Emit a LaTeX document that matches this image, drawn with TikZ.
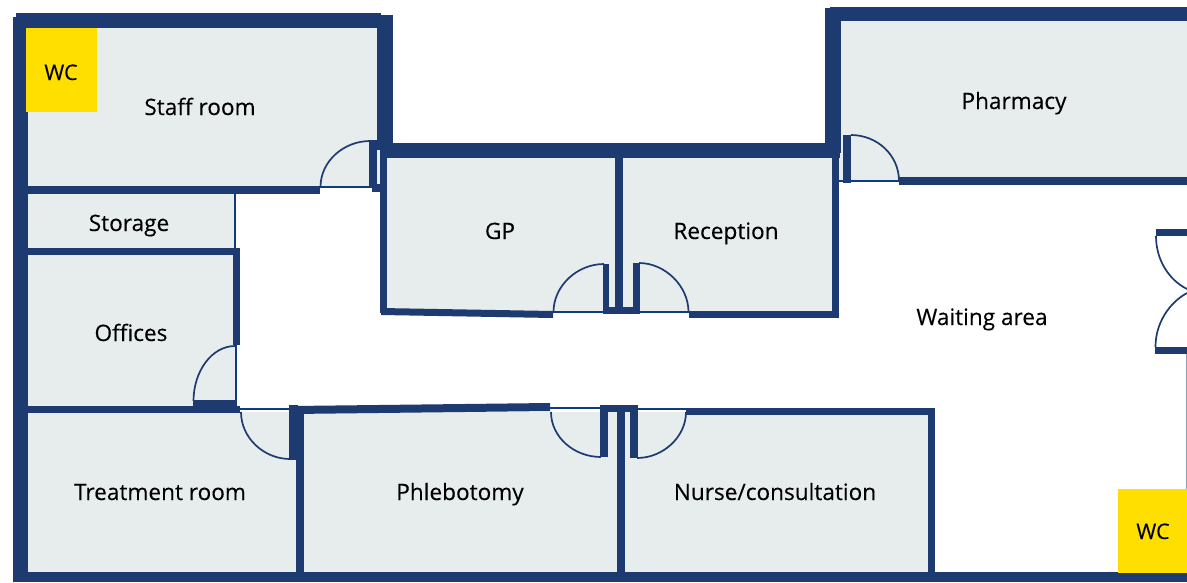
\documentclass[tikz,border=0pt]{standalone}
\usepackage{fontspec}
\setmainfont[FakeBold=0.25]{Open Sans}
\definecolor{wall}{HTML}{1D3B70}
\definecolor{roomfill}{HTML}{E7ECEC}
\definecolor{doorline}{HTML}{0F3A88}
\definecolor{wcyellow}{HTML}{FFDF00}
\definecolor{edgeline}{HTML}{8C9DBD}
\tikzset{
  room/.style={fill=roomfill,draw=none},
  wallpart/.style={fill=wall,draw=none},
  opening/.style={draw=doorline,line width=2pt},
  swing/.style={draw=wall,line width=1.7pt},
  wcbox/.style={fill=wcyellow,draw=none},
  label/.style={font=\fontsize{22.6}{26}\selectfont,text=black,inner sep=0pt,anchor=base},
  wclabel/.style={font=\fontsize{21.5}{24}\selectfont,text=black,inner sep=0pt,anchor=base}
}
\begin{document}
\begin{tikzpicture}[x=1pt,y=-1pt]
\useasboundingbox (0,0) rectangle (1187,582);
% room floors
\fill[room] (28,28) rectangle (380,188);
\fill[room] (28,194) rectangle (235,250);
\fill[room] (28,254) rectangle (235,406);
\fill[room] (28,412) rectangle (298,574);
\fill[room] (302,412) rectangle (620,574);
\fill[room] (622,412) rectangle (930,574);
\fill[room] (385,155) rectangle (616,313);
\fill[room] (622,155) rectangle (834,313);
\fill[room] (838,20) rectangle (1187,181);
% thin openings
\draw[opening] (320,187) -- (372,187);
\draw[opening] (553,312) -- (605,312);
\draw[opening] (638,312) -- (690,312);
\draw[opening] (839,181) -- (900,181);
\draw[opening] (235,194) -- (235,250);
\draw[opening] (236,345) -- (236,406);
\draw[opening] (240,409) -- (292,409);
\draw[opening] (550,408) -- (602,408);
\draw[opening] (636,409) -- (688,409);
\draw[edgeline,line width=1pt] (1186.5,354) -- (1186.5,490);
% door swings
\draw[swing] (320.5,187) .. controls (320.5,161) and (344,141) .. (370,141);
\draw[swing] (553.5,312) .. controls (553.5,286) and (577,264) .. (604,264);
\draw[swing] (688.5,312) .. controls (688.5,286) and (665,263) .. (639,263);
\draw[swing] (899,181) .. controls (899,155) and (877,135) .. (851,135);
\draw[swing] (193.5,401) .. controls (193.5,371) and (212,346) .. (235,346);
\draw[swing] (241,412) .. controls (241,438) and (264,459) .. (290,459);
\draw[swing] (551,412) .. controls (551,437) and (574,457) .. (601,457);
\draw[swing] (686,412) .. controls (686,437) and (663,458) .. (637,458);
\draw[swing] (1156,236) .. controls (1156,260) and (1169,280) .. (1187,289);
\draw[swing] (1155.5,347) .. controls (1155.5,323) and (1169,303) .. (1187,293);
% walls
\fill[wallpart] (13,17) rectangle (28,582);
\fill[wallpart] (16,13) rectangle (381,28);
\fill[wallpart] (377,15) rectangle (393,150);
\fill[wallpart] (28,186) rectangle (320,194);
\fill[wallpart] (369,140) rectangle (377,187);
\fill[wallpart] (372,184) rectangle (381,192);
\fill[wallpart] (381,143) rectangle (840,158);
\fill[wallpart] (380,150) rectangle (387,313);
\fill[wallpart] (381,308) -- (553,311) -- (553,318) -- (381,315) -- cycle;
\fill[wallpart] (603,264) rectangle (609,314);
\fill[wallpart] (603,307) rectangle (640,314);
\fill[wallpart] (615,155) rectangle (623,310);
\fill[wallpart] (633,263) rectangle (640,314);
\fill[wallpart] (689,311) rectangle (839,318);
\fill[wallpart] (832,150) rectangle (839,318);
\fill[wallpart] (825,8) rectangle (841,153);
\fill[wallpart] (830,7) rectangle (1187,21);
\fill[wallpart] (843,135) rectangle (851,183);
\fill[wallpart] (899,177) rectangle (1187,185);
\fill[wallpart] (28,248) rectangle (240,255);
\fill[wallpart] (233,250) rectangle (240,345);
\fill[wallpart] (193,400) rectangle (237,406);
\fill[wallpart] (28,406) rectangle (240,413);
\fill[wallpart] (289,405) rectangle (298,460);
\fill[wallpart] (296,406) rectangle (304,574);
\fill[wallpart] (292,406) -- (550,403) -- (550,411) -- (292,414) -- cycle;
\fill[wallpart] (600,405) rectangle (608,457);
\fill[wallpart] (600,405) rectangle (637,412);
\fill[wallpart] (617,410) rectangle (625,574);
\fill[wallpart] (630,405) rectangle (638,458);
\fill[wallpart] (686,408) rectangle (935,415);
\fill[wallpart] (928,408) rectangle (935,574);
\fill[wallpart] (1156,229) rectangle (1187,236);
\fill[wallpart] (1155,347) rectangle (1187,354);
\fill[wallpart] (13,572) rectangle (1187,582);
% WC blocks
\fill[wcbox] (26,28) rectangle (97,112);
\fill[wcbox] (1118,489) rectangle (1187,573);
% labels
\node[wclabel] (wca) at (61,80) {WC};
\node[wclabel] (wcb) at (1153,539) {WC};
\node[label] (staff) at (200,115) {Staff room};
\node[label] (storage) at (129,231) {Storage};
\node[label] (offices) at (131,341) {Offices};
\node[label] (gp) at (500,239) {GP};
\node[label] (reception) at (726,239) {Reception};
\node[label] (pharmacy) at (1014,109) {Pharmacy};
\node[label] (waiting) at (982,325) {Waiting area};
\node[label] (treatment) at (160,500) {Treatment room};
\node[label] (phleb) at (460,500) {Phlebotomy};
\node[label] (nurse) at (775,500) {Nurse/consultation};
\end{tikzpicture}
\end{document}
